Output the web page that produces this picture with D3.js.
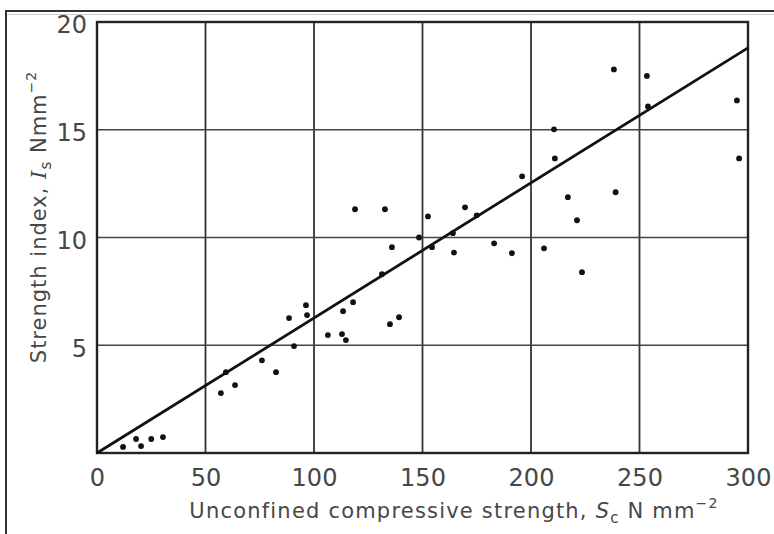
<!DOCTYPE html>
<html>
<head>
<meta charset="utf-8">
<script src="https://cdn.jsdelivr.net/npm/d3@7"></script>
<style>
  html, body { margin: 0; padding: 0; background: #fff; }
  svg { display: block; }
</style>
</head>
<body>
<svg id="chart" width="774" height="534"></svg>
<script>
// ---- data ----
const sc = [12, 18, 20.3, 25, 30.4, 57.1, 59.4, 63.6, 76, 82.5,
            88.5, 90.8, 96.3, 96.8, 106.4, 112.9, 113.4, 114.7, 118, 118.9,
            131.3, 132.7, 135, 135.9, 139.2, 148.4, 152.5, 154.4, 164, 164.5,
            169.6, 175, 183, 191.2, 195.9, 206, 210.6, 211, 217, 221.2,
            223.5, 238.2, 239, 253.4, 253.9, 294.9, 295.9];
const is = [0.28, 0.65, 0.32, 0.65, 0.74, 2.78, 3.75, 3.15, 4.3, 3.75,
            6.26, 4.96, 6.86, 6.4, 5.47, 5.52, 6.58, 5.24, 7.0, 11.31,
            8.3, 11.31, 5.98, 9.55, 6.3, 10.0, 10.98, 9.55, 10.2, 9.3,
            11.4, 11.03, 9.73, 9.27, 12.84, 9.5, 15.02, 13.67, 11.87, 10.8,
            8.39, 17.8, 12.1, 17.5, 16.08, 16.36, 13.67];
const fitX = [0, 300];
const fitY = [0, 18.8];
const xTicks = [0, 50, 100, 150, 200, 250, 300];
const yTicks = [5, 10, 15, 20];

// ---- layout ----
const svg = d3.select("#chart");
const x = d3.scaleLinear().domain([0, 300]).range([97, 748]);
const y = d3.scaleLinear().domain([0, 20]).range([453, 22]);
const ink = "#222";
const txt = "#474747";
const font = "'DejaVu Sans', sans-serif";

// scanned page frame
svg.append("line").attr("x1", 6).attr("x2", 774).attr("y1", 11).attr("y2", 11)
  .attr("stroke", "#333").attr("stroke-width", 2);
svg.append("line").attr("x1", 6).attr("x2", 774).attr("y1", 14.5).attr("y2", 14.5)
  .attr("stroke", "#ccc").attr("stroke-width", 1);
svg.append("line").attr("x1", 6).attr("x2", 6).attr("y1", 10).attr("y2", 534)
  .attr("stroke", "#333").attr("stroke-width", 2);

// grid
const grid = svg.append("g");
grid.selectAll("line.v").data(xTicks.filter(d => d > 0 && d < 300)).join("line")
  .attr("x1", d => x(d)).attr("x2", d => x(d))
  .attr("y1", y(20)).attr("y2", y(0))
  .attr("stroke", "#333").attr("stroke-width", 1.8);
grid.selectAll("line.h").data(yTicks.filter(d => d < 20)).join("line")
  .attr("x1", x(0)).attr("x2", x(300))
  .attr("y1", d => y(d)).attr("y2", d => y(d))
  .attr("stroke", "#444").attr("stroke-width", 1.6);

// plot frame
svg.append("rect")
  .attr("x", x(0)).attr("y", y(20))
  .attr("width", x(300) - x(0)).attr("height", y(0) - y(20))
  .attr("fill", "none").attr("stroke", ink).attr("stroke-width", 2.4);

// axes (labels only)
const xAxis = svg.append("g").attr("transform", `translate(0,${y(0)})`)
  .call(d3.axisBottom(x).tickValues(xTicks).tickSize(0).tickPadding(16).tickFormat(d3.format("d")));
xAxis.select(".domain").remove();
xAxis.selectAll("text").attr("font-family", font).attr("font-size", 24)
  .attr("fill", txt);

const yAxis = svg.append("g").attr("transform", `translate(${x(0)},0)`)
  .call(d3.axisLeft(y).tickValues(yTicks).tickSize(0).tickPadding(10).tickFormat(d3.format("d")));
yAxis.select(".domain").remove();
yAxis.selectAll("text").attr("font-family", font).attr("font-size", 24)
  .attr("fill", txt).attr("dy", "0.45em");

// fit line
svg.append("line")
  .attr("x1", x(fitX[0])).attr("y1", y(fitY[0]))
  .attr("x2", x(fitX[1])).attr("y2", y(fitY[1]))
  .attr("stroke", "#111").attr("stroke-width", 2.8);

// points
svg.append("g").selectAll("circle").data(sc.map((d, i) => [d, is[i]])).join("circle")
  .attr("cx", d => x(d[0])).attr("cy", d => y(d[1]))
  .attr("r", 2.9).attr("fill", "#111");

// x title
const xt = svg.append("text").attr("x", 454).attr("y", 518)
  .attr("text-anchor", "middle").attr("font-family", font).attr("font-size", 21)
  .attr("letter-spacing", 1.2).attr("fill", txt);
xt.append("tspan").text("Unconfined compressive strength, ");
xt.append("tspan").attr("font-style", "italic").text("S");
xt.append("tspan").attr("font-size", 15).attr("dy", 5).text("c");
xt.append("tspan").attr("dy", -5).text("  N mm");
xt.append("tspan").attr("font-size", 14).attr("dy", -10).text("−2");

// y title
const yt = svg.append("text")
  .attr("transform", "translate(46,217) rotate(-90)")
  .attr("text-anchor", "middle").attr("font-family", font).attr("font-size", 21)
  .attr("letter-spacing", 1).attr("fill", txt);
yt.append("tspan").text("Strength index, ");
yt.append("tspan").attr("font-style", "italic").attr("font-family", "'DejaVu Serif', serif").text("I");
yt.append("tspan").attr("font-size", 15).attr("dy", 5).text("s");
yt.append("tspan").attr("dy", -5).text(" Nmm");
yt.append("tspan").attr("font-size", 14).attr("dy", -10).text("−2");
</script>
</body>
</html>
